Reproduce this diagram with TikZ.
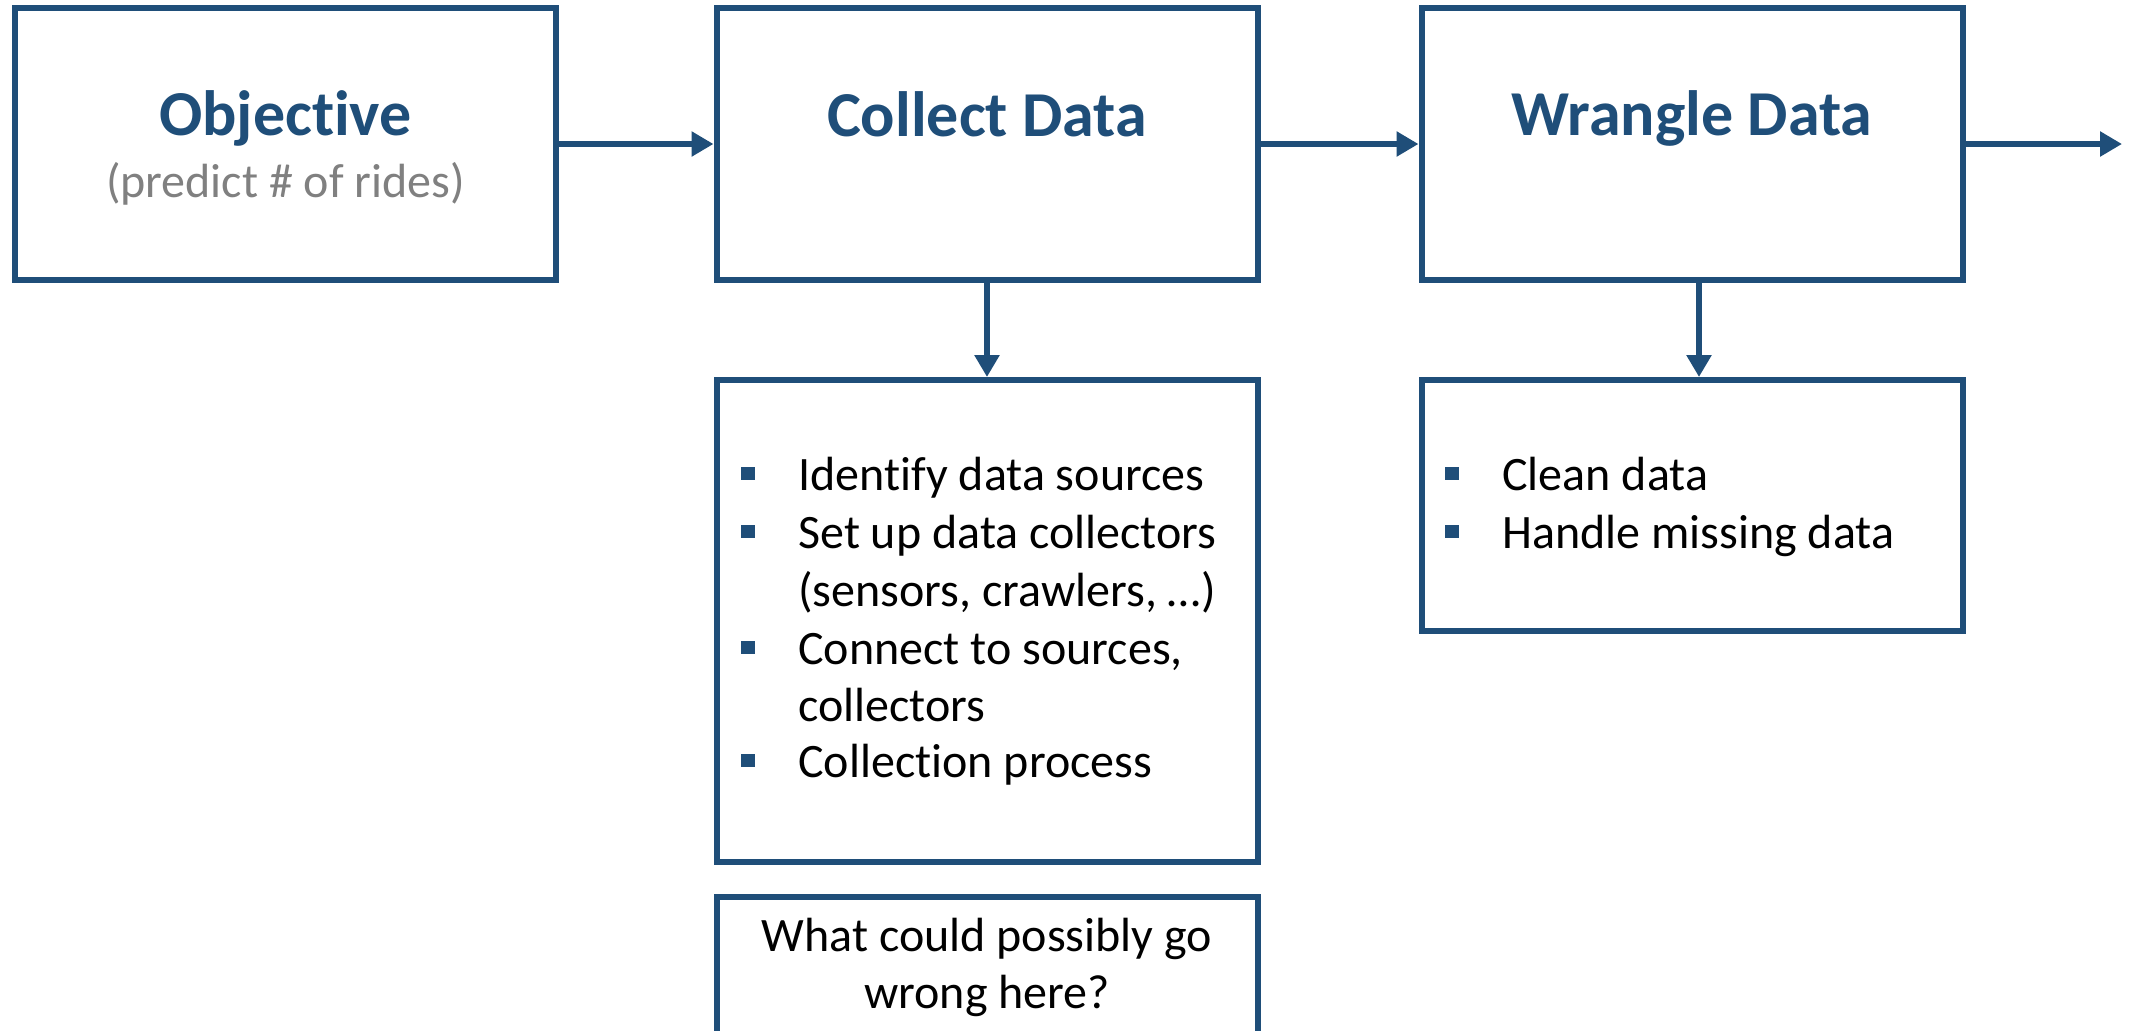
\documentclass[tikz,border=0pt]{standalone}
\usepackage{fontspec}
\setmainfont{Carlito}[Ligatures=NoCommon]
\usetikzlibrary{arrows.meta}
\definecolor{dblue}{RGB}{31,78,121}
\definecolor{sgray}{RGB}{128,128,128}
\begin{document}
\begin{tikzpicture}[x=0.5pt,y=-0.5pt,
  box/.style={draw=dblue,line width=3pt,inner sep=0pt,minimum width=270.5pt},
  head/.style={anchor=base,inner sep=0pt,text=dblue,font=\fontsize{32}{38}\selectfont\bfseries},
  sub/.style={anchor=base,inner sep=0pt,text=sgray,font=\fontsize{24}{29}\selectfont},
  line/.style={anchor=base west,inner sep=0pt,font=\fontsize{24}{29}\selectfont},
  cline/.style={anchor=base,inner sep=0pt,font=\fontsize{24}{29}\selectfont},
  bul/.style={fill=dblue,inner sep=0pt,minimum size=6.75pt},
  conn/.style={draw=dblue,line width=2.75pt,-{Triangle[length=11pt,width=12pt]}}]
\clip (0,0) rectangle (2133,1030);
\fill[white] (0,0) rectangle (2133,1030);
% main boxes
\node[box,minimum height=136pt] (obj) at (285.5,144) {};
\node[box,minimum height=136pt] (col) at (987,144) {};
\node[box,minimum height=136pt] (wra) at (1692,144) {};
% sub boxes
\node[box,minimum height=241pt] (colb) at (987,621) {};
\node[box,minimum height=125.5pt] (wrab) at (1692,505.5) {};
\node[box,minimum height=90pt] (q) at (987,987) {};
% headings
\node[head] (objt) at (285.5,135) {Objective};
\node[sub] (objs) at (285.5,197) {(predict \# of rides)};
\node[head] (colt) at (987,136) {Collect Data};
\node[head] (wrat) at (1692,135) {Wrangle Data};
% collect bullets
\node[bul] (b1) at (748,473.5) {};
\node[line] (l1) at (798,490) {Identify data sources};
\node[bul] (b2) at (748,531.5) {};
\node[line] (l2) at (798,548) {Set up data collectors};
\node[line] (l3) at (798,606) {(sensors, crawlers, …)};
\node[bul] (b4) at (748,647.5) {};
\node[line] (l4) at (798,664) {Connect to sources,};
\node[line] (l5) at (798,721) {collectors};
\node[bul] (b6) at (748,760.5) {};
\node[line] (l6) at (798,777) {Collection process};
% wrangle bullets
\node[bul] (w1) at (1452,473.5) {};
\node[line] (wl1) at (1502,490) {Clean data};
\node[bul] (w2) at (1452,531.5) {};
\node[line] (wl2) at (1502,548) {Handle missing data};
% question
\node[cline] (q1) at (987,951) {What could possibly go};
\node[cline] (q2) at (987,1008) {wrong here?};
% connectors
\coordinate (out) at (2122,144);
\draw[conn] (obj.east) -- (col.west);
\draw[conn] (col.east) -- (wra.west);
\draw[conn] (wra.east) -- (out);
\draw[conn] (col.south) -- (colb.north);
\draw[conn] ([xshift=3.5pt]wra.south) -- ([xshift=3.5pt]wrab.north);
\end{tikzpicture}
\end{document}
